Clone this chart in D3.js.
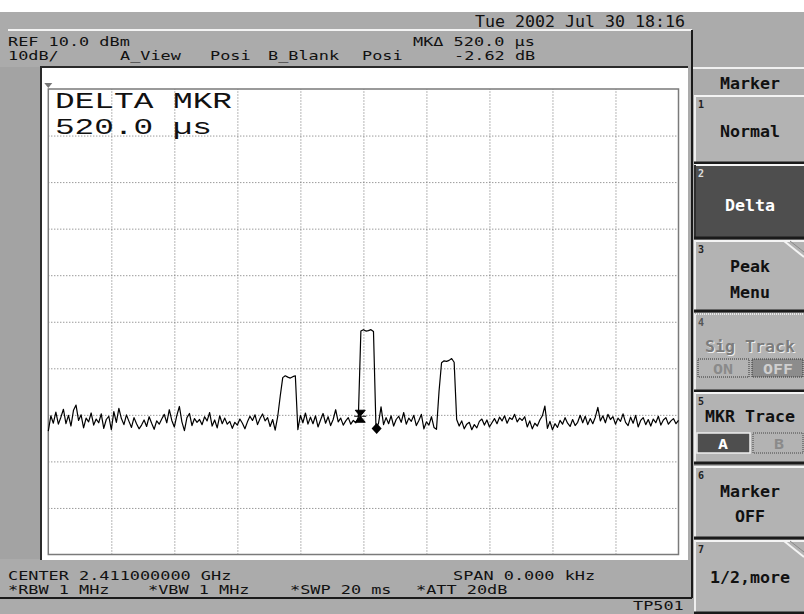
<!DOCTYPE html>
<html><head><meta charset="utf-8">
<script src="https://cdn.jsdelivr.net/npm/d3@7"></script>
<style>html,body{margin:0;padding:0;background:#ababab;}svg{display:block;}</style>
</head><body>
<script>
// ---- data ----
const sweepMs = 20;            // SWP 20 ms, zero span: x axis is time
const refLevel = 10;           // REF 10.0 dBm
const dbPerDiv = 10;           // 10dB/
const xGridMs = [0,2,4,6,8,10,12,14,16,18,20];
const yGridDbm = [10,0,-10,-20,-30,-40,-50,-60,-70,-80,-90];
const traceStepMs = 0.08;
const traceDbm = [
-63.5,-60.2,-61.8,-59.4,-62.0,-60.5,-58.8,-61.9,-60.1,-62.4,
-59.0,-57.9,-61.2,-60.0,-62.8,-60.7,-61.5,-59.6,-62.2,-60.9,
-61.7,-59.8,-62.9,-61.0,-60.3,-63.2,-59.3,-61.6,-58.6,-60.8,
-62.1,-60.0,-61.4,-62.7,-60.6,-61.9,-63.0,-62.2,-61.1,-62.5,
-60.4,-61.8,-63.1,-61.3,-62.0,-60.9,-59.9,-61.7,-58.9,-61.2,
-62.6,-60.1,-58.2,-61.5,-63.4,-60.6,-59.7,-62.3,-60.8,-61.6,
-61.0,-62.1,-60.4,-61.3,-59.5,-62.4,-61.1,-62.8,-60.2,-61.9,
-60.7,-62.0,-61.4,-62.9,-61.6,-62.2,-60.9,-61.8,-63.0,-61.5,
-60.3,-61.2,-60.0,-62.1,-60.8,-59.8,-61.3,-60.6,-62.5,-61.0,
-63.3,-60.4,
-56.0,
-52.0,-51.6,-51.9,-52.1,-51.8,-51.6,
-63.2,
-60.1,-61.7,-59.6,-62.0,-60.5,-61.9,-60.2,-62.6,-61.1,-59.7,
-61.8,-60.4,-62.3,-61.0,-58.9,-61.5,-60.7,-62.2,-61.3,-60.6,
-62.0,-61.2,-61.7,-60.5,
-42.0,-41.7,-42.0,-41.9,-41.7,-42.1,
-63.0,
-61.8,-58.3,-62.1,-60.6,-61.9,-60.2,-62.4,-61.0,-60.3,
-61.6,-59.5,-62.0,-60.7,-61.4,-60.1,-62.3,-61.2,-59.9,-63.0,
-61.5,-62.2,-60.4,-62.7,-63.1,
-55.0,
-48.8,-48.4,-48.5,-48.3,-47.9,-48.7,
-61.0,
-62.4,-61.3,-63.0,-62.0,-61.6,-63.2,-62.1,
-62.8,-61.4,-60.9,-62.2,-61.1,-62.6,-61.7,-60.8,-61.9,-60.5,
-61.3,-60.2,-61.8,-60.6,-61.0,-59.9,-61.5,-60.7,-61.2,-60.4,
-62.6,-61.3,-63.0,-61.8,-62.4,-61.1,-60.2,-58.1,-62.9,-61.4,
-63.2,-61.9,-62.7,-61.2,-62.0,-60.6,-61.8,-62.5,-61.0,-62.3,
-61.6,-60.1,-61.7,-60.3,-62.1,-60.8,-61.9,-60.5,-58.4,-61.3,
-60.2,-61.7,-59.9,-61.0,-60.4,-62.0,-60.7,-61.4,-59.8,-61.6,
-62.3,-60.5,-61.8,-60.1,-62.6,-61.2,-60.6,-62.1,-61.0,-62.4,
-60.9,-61.7,-60.3,-62.2,-61.1,-60.6,-62.0,-61.3,-60.8,-61.9,-61.2
];
const refMarker = {ms: 9.90, dbm: -60.30};     // delta reference marker
const deltaMarker = {ms: 10.42, dbm: -62.92};  // MKΔ 520.0 µs, -2.62 dB

const headerTexts = [
  {s:"REF 10.0 dBm", x:8, y:46},
  {s:"10dB/", x:8, y:60},
  {s:"A_View", x:120, y:60},
  {s:"Posi", x:210, y:60},
  {s:"B_Blank", x:268, y:60},
  {s:"Posi", x:362, y:60},
  {s:"MK\u0394 520.0 \u00b5s", x:413, y:46},
  {s:"-2.62 dB", x:454, y:60}
];
const dateText = {s:"Tue 2002 Jul 30 18:16", x:475, y:27};
const footerTexts = [
  {s:"CENTER 2.411000000 GHz", x:8, y:580},
  {s:"SPAN 0.000 kHz", x:453, y:580},
  {s:"*RBW 1 MHz", x:8, y:594},
  {s:"*VBW 1 MHz", x:148, y:594},
  {s:"*SWP 20 ms", x:290, y:594},
  {s:"*ATT 20dB", x:416, y:594},
  {s:"TP501", x:633, y:610}
];

// ---- drawing ----
const W = 804, H = 614;
const svg = d3.select("body").append("svg").attr("width", W).attr("height", H)
  .style("font-family", "'DejaVu Sans Mono', monospace");

svg.append("rect").attr("width", W).attr("height", H).attr("fill", "#ababab");
svg.append("rect").attr("width", W).attr("height", 12).attr("fill", "#ffffff");

// main screen bevel
svg.append("line").attr("x1", 8).attr("x2", 692).attr("y1", 30).attr("y2", 30).attr("stroke", "#f4f4f4").attr("stroke-width", 2);
svg.append("line").attr("x1", 692).attr("x2", 692).attr("y1", 30).attr("y2", 598).attr("stroke", "#1a1a1a").attr("stroke-width", 2);
svg.append("line").attr("x1", 0).attr("x2", 692).attr("y1", 598).attr("y2", 598).attr("stroke", "#1a1a1a").attr("stroke-width", 2);
// left darker strip
svg.append("rect").attr("x", 0).attr("y", 67).attr("width", 40).attr("height", 492).attr("fill", "#a3a3a3");

// white panel with inset border
svg.append("rect").attr("x", 41).attr("y", 67).attr("width", 647).attr("height", 493).attr("fill", "#ffffff");
svg.append("path").attr("d", "M41,560 L41,67 L688,67").attr("fill", "none").attr("stroke", "#2a2a2a").attr("stroke-width", 2);

function mono(sel, d, size, adv, weight) {
  return sel.append("text").attr("x", d.x).attr("y", d.y)
    .attr("font-size", size).attr("font-weight", weight || "normal")
    .attr("textLength", d.s.length * adv).attr("lengthAdjust", "spacingAndGlyphs")
    .attr("fill", d.fill || "#111").text(d.s);
}
mono(svg, dateText, 15, 10.0);
headerTexts.forEach(d => mono(svg, d, 12.5, 10.15));
footerTexts.forEach(d => mono(svg, d, 12.5, 10.15));

// plot
const x = d3.scaleLinear().domain([0, sweepMs]).range([48.3, 678.5]);
const y = d3.scaleLinear().domain([refLevel, refLevel - 10 * dbPerDiv]).range([89, 554.5]);

const gx = svg.append("g").attr("transform", `translate(0,${y.range()[1]})`)
  .call(d3.axisBottom(x).tickValues(xGridMs.slice(1, -1)).tickSize(-(y.range()[1] - y.range()[0])).tickFormat(""));
const gy = svg.append("g").attr("transform", `translate(${x.range()[0]},0)`)
  .call(d3.axisLeft(y).tickValues(yGridDbm.slice(1, -1)).tickSize(-(x.range()[1] - x.range()[0])).tickFormat(""));
[gx, gy].forEach(g => {
  g.select(".domain").remove();
  g.selectAll(".tick line").attr("stroke", "#6e6e6e").attr("stroke-width", 1).attr("stroke-dasharray", "1,2");
});
// frame
svg.append("rect").attr("x", x(0)).attr("y", y(refLevel))
  .attr("width", x(sweepMs) - x(0)).attr("height", y(refLevel - 10 * dbPerDiv) - y(refLevel))
  .attr("fill", "none").attr("stroke", "#7a7a7a").attr("stroke-width", 1.5);
// reference-level triangle
svg.append("path").attr("d", `M${x(0)-4},${y(refLevel)-6} L${x(0)+4},${y(refLevel)-6} L${x(0)},${y(refLevel)-1} Z`).attr("fill", "#777");

// big delta marker readout
svg.append("text").attr("x", 55).attr("y", 108).attr("font-family", "'Liberation Mono', monospace")
  .attr("font-size", 22.5).attr("textLength", 177).attr("lengthAdjust", "spacingAndGlyphs").attr("fill", "#111").text("DELTA MKR");
svg.append("text").attr("x", 55).attr("y", 134).attr("font-family", "'Liberation Mono', monospace")
  .attr("font-size", 22.5).attr("textLength", 157).attr("lengthAdjust", "spacingAndGlyphs").attr("fill", "#111").text("520.0 \u00b5s");

// trace
const line = d3.line().x((d, i) => x(i * traceStepMs)).y(d => y(d));
svg.append("path").datum(traceDbm).attr("d", line).attr("fill", "none")
  .attr("stroke", "#000").attr("stroke-width", 1.2).attr("stroke-linejoin", "round");

// markers
svg.append("path").attr("transform", `translate(${x(refMarker.ms)},${y(refMarker.dbm)})`)
  .attr("d", "M-5,-6 L5,-6 L0,0 Z M-5,6 L5,6 L0,0 Z M-6,0 L6,0").attr("fill", "#000").attr("stroke", "#000").attr("stroke-width", 1);
svg.append("path").attr("transform", `translate(${x(deltaMarker.ms)},${y(deltaMarker.dbm)})`)
  .attr("d", "M0,-5.5 L5,0 L0,5.5 L-5,0 Z").attr("fill", "#000");

// ---- softkey panel ----
const sk = svg.append("g");
sk.append("line").attr("x1", 693).attr("x2", 804).attr("y1", 68).attr("y2", 68).attr("stroke", "#f0f0f0").attr("stroke-width", 2);
function skText(s, cx, yb, fill, size) {
  const adv = 10.0;
  sk.append("text").attr("x", cx - s.length * adv / 2).attr("y", yb).attr("font-size", size || 15.5)
    .attr("font-weight", "bold").attr("textLength", s.length * adv).attr("lengthAdjust", "spacingAndGlyphs")
    .attr("fill", fill || "#111").text(s);
}
skText("Marker", 750, 89);

const buttons = [
  {n:"1", y0:96, y1:162, dark:false, lines:[["Normal",137]]},
  {n:"2", y0:165, y1:237, dark:true, lines:[["Delta",211]]},
  {n:"3", y0:241, y1:310, dark:false, notch:true, lines:[["Peak",272],["Menu",298]]},
  {n:"4", y0:314, y1:390, dark:false, disabled:true, lines:[["Sig Track",352]]},
  {n:"5", y0:393, y1:462, dark:false, lines:[["MKR Trace",422]]},
  {n:"6", y0:467, y1:537, dark:false, lines:[["Marker",497],["OFF",522]]},
  {n:"7", y0:541, y1:612, dark:false, notch:true, lines:[["1/2,more",583]]}
];
buttons.forEach(b => {
  sk.append("rect").attr("x", 695).attr("y", b.y0).attr("width", 109).attr("height", b.y1 - b.y0)
    .attr("fill", b.dark ? "#4e4e4e" : "#b3b3b3");
  sk.append("line").attr("x1", 694).attr("x2", 804).attr("y1", b.y0).attr("y2", b.y0).attr("stroke", b.disabled ? "#e8e8e8" : "#f4f4f4").attr("stroke-width", 2)
    .attr("stroke-dasharray", b.disabled ? "1,1" : null);
  sk.append("line").attr("x1", 695).attr("x2", 695).attr("y1", b.y0).attr("y2", b.y1).attr("stroke", b.dark ? "#2e2e2e" : "#eeeeee").attr("stroke-width", 2);
  sk.append("line").attr("x1", 694).attr("x2", 804).attr("y1", b.y1 + 1).attr("y2", b.y1 + 1).attr("stroke", "#1a1a1a").attr("stroke-width", 3);
  if (b.notch) {
    sk.append("path").attr("d", `M784,${b.y0} L804,${b.y0 + 16}`).attr("stroke", "#f4f4f4").attr("stroke-width", 2);
    sk.append("path").attr("d", `M790,${b.y0} L804,${b.y0 + 11}`).attr("stroke", "#8a8a8a").attr("stroke-width", 1);
  }
  sk.append("text").attr("x", 698).attr("y", b.y0 + 12).attr("font-size", 10).attr("font-weight", "bold")
    .attr("fill", b.dark ? "#dddddd" : (b.disabled ? "#555" : "#222")).text(b.n);
  b.lines.forEach(l => {
    if (b.disabled) {
      skText(l[0], 751, l[1] + 1, "#eeeeee");
      skText(l[0], 750, l[1], "#7c7c7c");
    } else skText(l[0], 750, l[1], b.dark ? "#ffffff" : "#111");
  });
});
// ON / OFF boxes
sk.append("rect").attr("x", 698).attr("y", 359).attr("width", 51).attr("height", 18).attr("fill", "#b3b3b3")
  .attr("stroke", "#333").attr("stroke-dasharray", "1,1");
sk.append("rect").attr("x", 752).attr("y", 359).attr("width", 51).attr("height", 18).attr("fill", "#8c8c8c")
  .attr("stroke", "#333").attr("stroke-dasharray", "1,1");
skText("ON", 723, 374, "#8a8a8a", 14);
skText("OFF", 778, 374, "#cfcfcf", 14);
// A / B boxes
sk.append("rect").attr("x", 697).attr("y", 433).attr("width", 53).attr("height", 20).attr("fill", "#4e4e4e")
  .attr("stroke", "#eeeeee").attr("stroke-width", 1.5);
sk.append("rect").attr("x", 753).attr("y", 433).attr("width", 50).attr("height", 20).attr("fill", "#b3b3b3")
  .attr("stroke", "#444").attr("stroke-dasharray", "1,1");
skText("A", 723, 449, "#ffffff", 14);
skText("B", 779, 449, "#8a8a8a", 14);
</script>
</body></html>
